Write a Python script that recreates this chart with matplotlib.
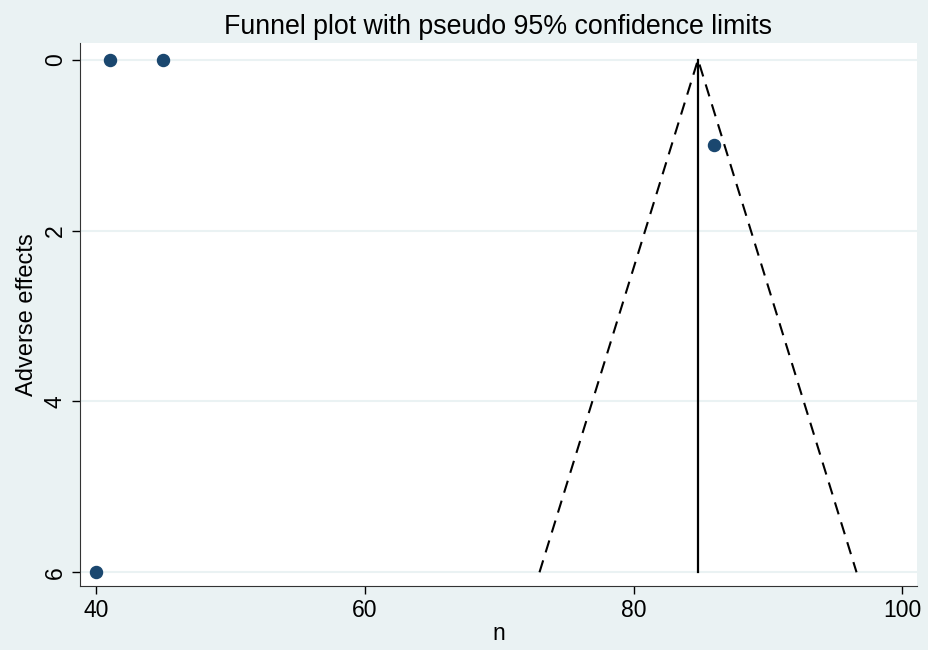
import matplotlib
matplotlib.use("Agg")
import matplotlib.pyplot as plt

plt.rcParams["font.family"] = ["Liberation Sans", "DejaVu Sans"]

# study points
n = [41, 45, 86, 40]
adverse = [0, 0, 1, 6]

# pooled estimate and pseudo 95% limits
pooled = 84.8
se_max = 6
lower_end = 73.0
upper_end = 96.6

fig = plt.figure(figsize=(9.29, 6.5), dpi=100, facecolor="#eaf2f3")
ax = fig.add_axes([0.0861, 0.0985, 0.901, 0.836])
ax.set_facecolor("white")

for y in [0, 2, 4, 6]:
    ax.axhline(y, color="#eaf2f3", lw=1.5, zorder=0)

ax.plot([pooled, pooled], [0, se_max], color="black", lw=1.6)
ax.plot([lower_end, pooled, upper_end], [se_max, 0, se_max], color="black",
        lw=1.5, ls=(0, (6, 4)))
ax.scatter(n, adverse, s=75, color="#1a476f", zorder=3)

ax.set_xlim(38.8, 101.1)
ax.set_ylim(6.16, -0.2)
ax.set_xticks([40, 60, 80, 100])
ax.set_yticks([0, 2, 4, 6])
ax.tick_params(axis="both", labelsize=16.5, length=6, width=1)
for lab in ax.get_yticklabels():
    lab.set_rotation(90)
    lab.set_va("center")
ax.spines["top"].set_visible(False)
ax.spines["right"].set_visible(False)
ax.spines["left"].set_color("#333333")
ax.spines["bottom"].set_color("#333333")

ax.set_xlabel("n", fontsize=16.5, labelpad=0)
ax.set_ylabel("Adverse effects", fontsize=17, labelpad=4)
fig.text(0.5365, 0.958, "Funnel plot with pseudo 95% confidence limits",
         fontsize=19.3, ha="center", va="center")

fig.savefig("out.png", dpi=100, facecolor=fig.get_facecolor())
